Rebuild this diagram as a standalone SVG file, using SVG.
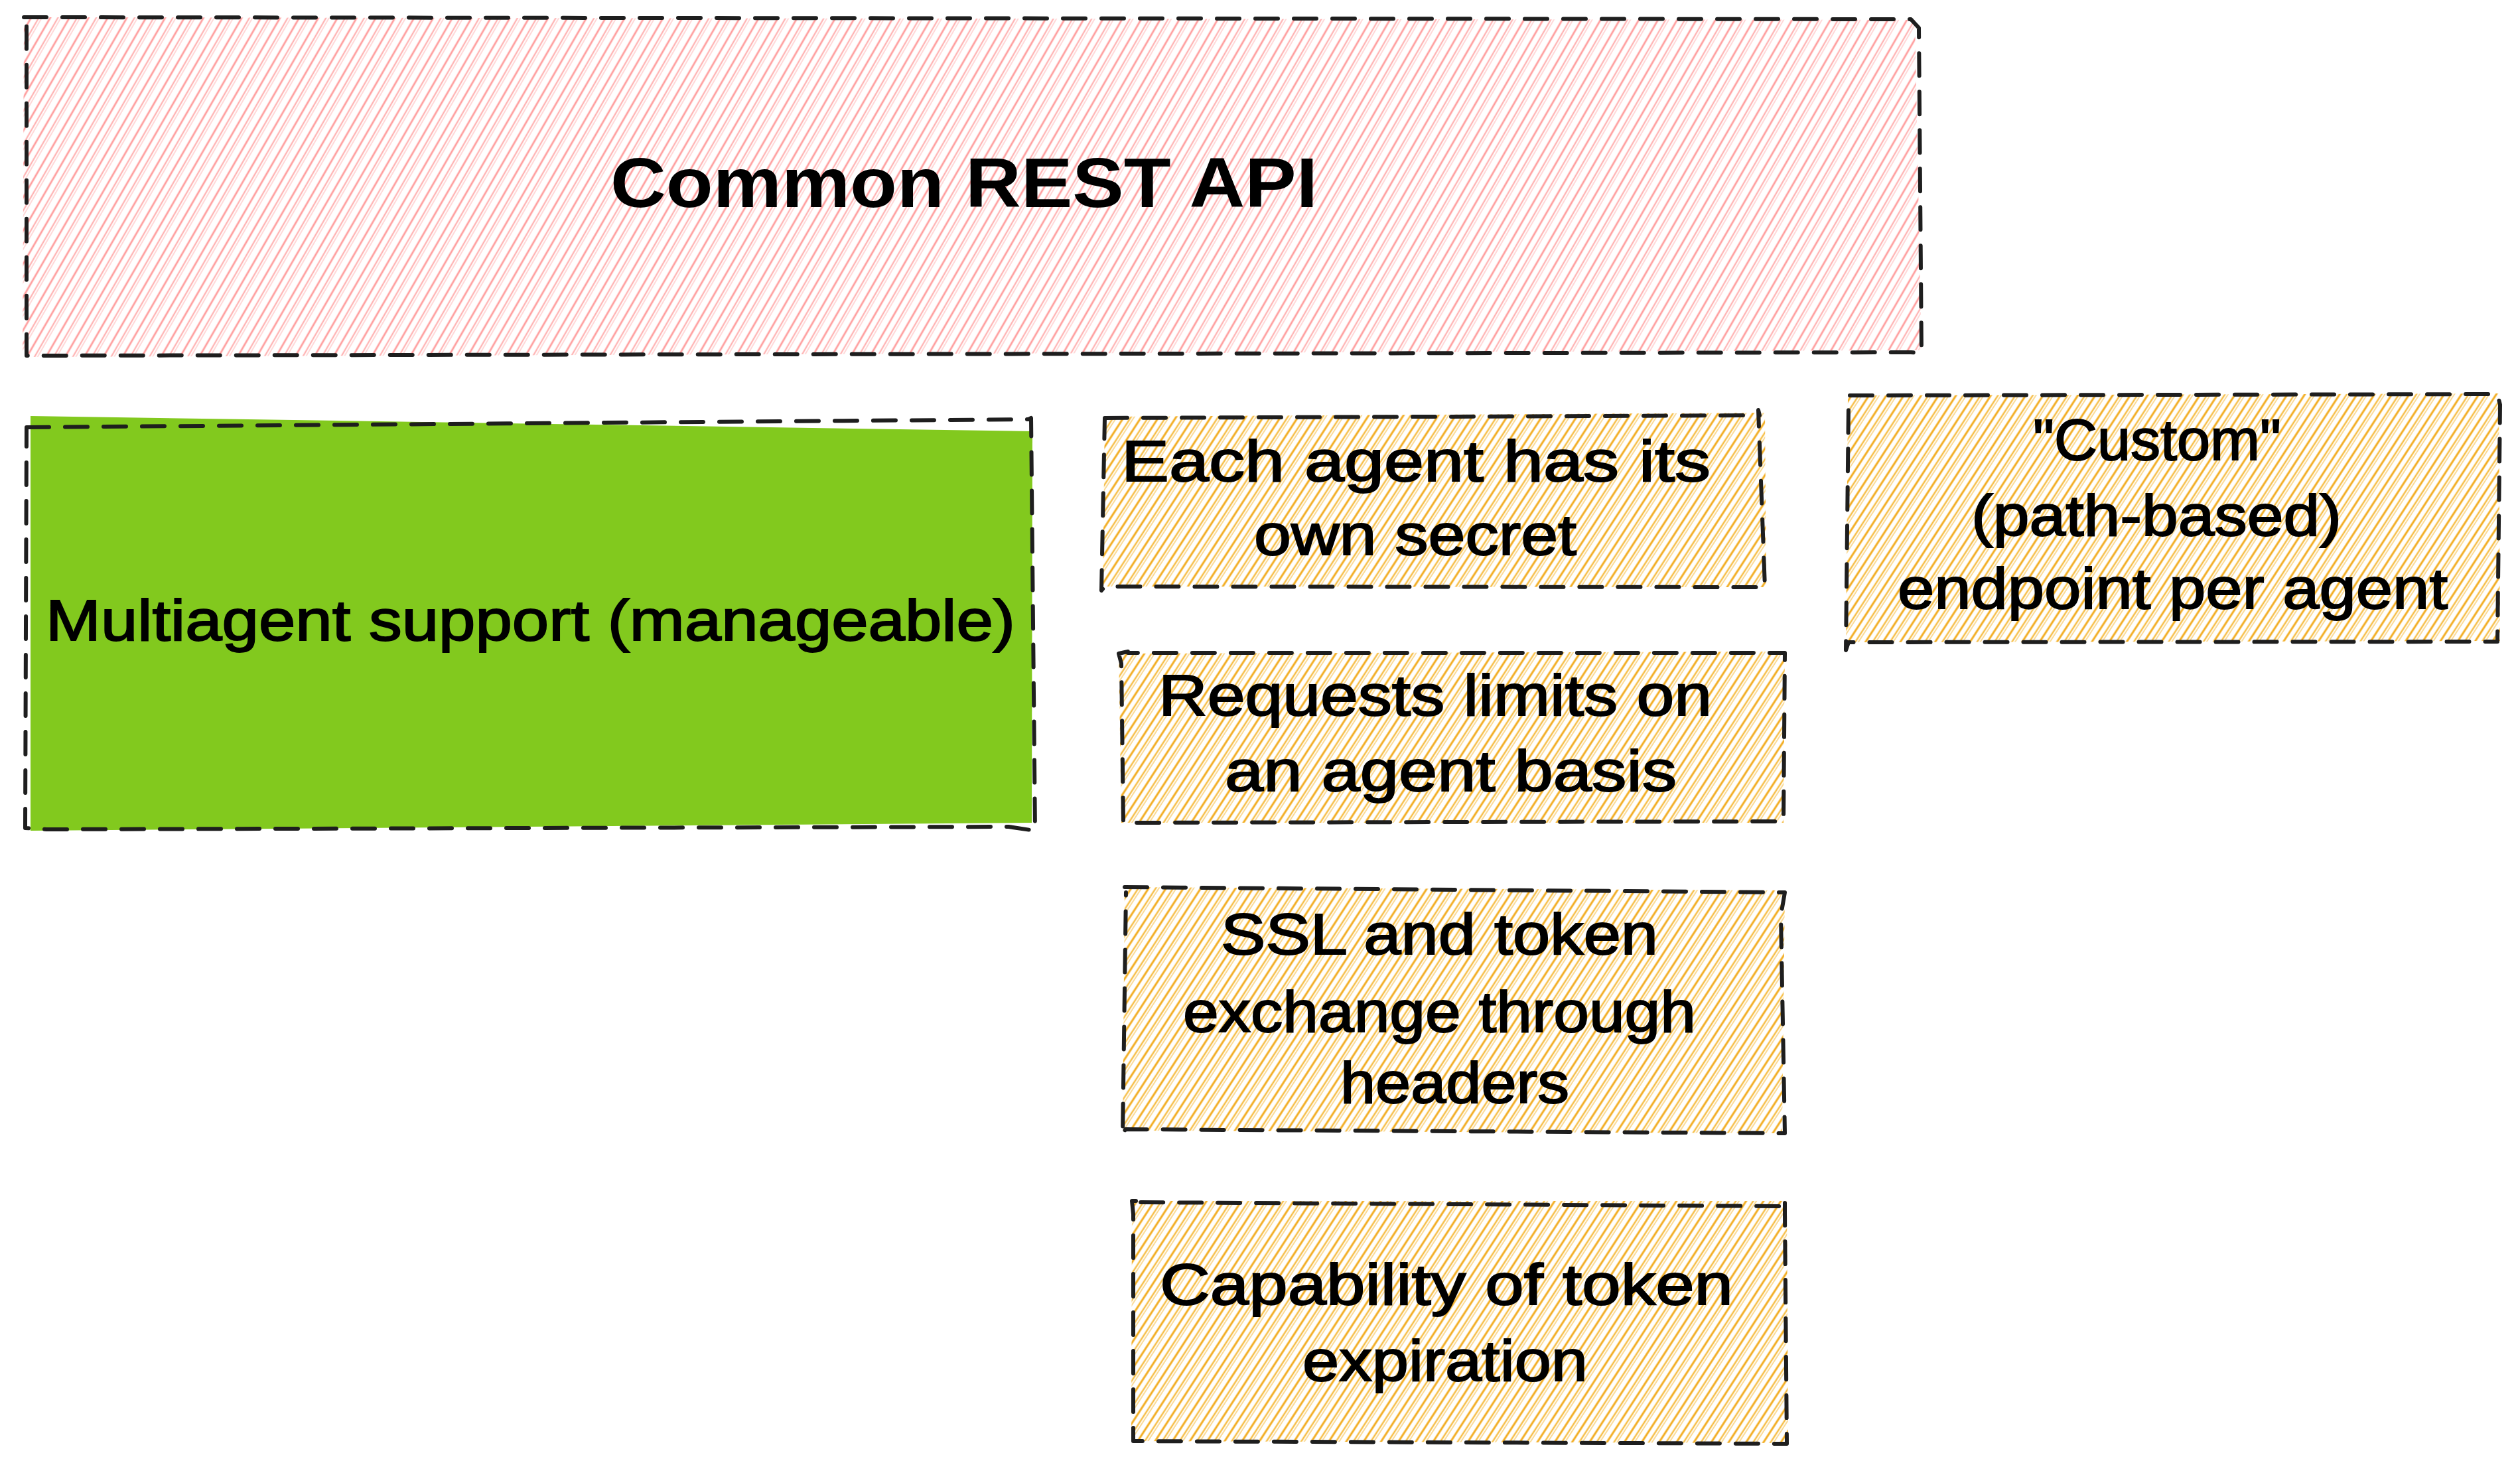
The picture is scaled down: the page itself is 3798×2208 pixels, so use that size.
<svg xmlns="http://www.w3.org/2000/svg" width="3798" height="2208" viewBox="0 0 3798 2208">
  <defs>
    <pattern id="hachPink" patternUnits="userSpaceOnUse" width="25" height="60" patternTransform="rotate(30)">
      <line x1="4" y1="0" x2="4" y2="60" stroke="#ff9f9f" stroke-width="2.8"/>
      <line x1="14" y1="0" x2="14" y2="60" stroke="#ffb5b5" stroke-width="2.4"/>
      <line x1="18" y1="0" x2="18" y2="60" stroke="#ffcfcf" stroke-width="1.6"/>
    </pattern>
    <pattern id="hachYellow" patternUnits="userSpaceOnUse" width="22" height="60" patternTransform="rotate(33)">
      <line x1="3" y1="0" x2="3" y2="60" stroke="#f2ad22" stroke-width="3"/>
      <line x1="12" y1="0" x2="12" y2="60" stroke="#f6c04c" stroke-width="2.6"/>
      <line x1="16" y1="0" x2="16" y2="60" stroke="#f9d27e" stroke-width="1.6"/>
    </pattern>
    <style>
      .border { fill: none; stroke: #1e1e1e; stroke-width: 6; stroke-dasharray: 34 24; stroke-linecap: round; stroke-linejoin: round; }
      .pink { fill: url(#hachPink); stroke: none; }
      .yellow { fill: url(#hachYellow); stroke: none; }
      .green { fill: #82c91e; stroke: none; }
      .hand { font-family: "Liberation Sans", "Noto Sans", sans-serif; font-size: 88px; fill: #000; stroke: #000; stroke-width: 2; text-anchor: start; }
      .title { font-family: "Liberation Sans", "Noto Sans", sans-serif; font-size: 106px; font-weight: bold; fill: #000; }
    </style>
  </defs>

  <g id="connectors"></g>

  <g id="node-common-rest-api">
    <path class="pink" d="M36 26 L2886 30 L2896 528 L34 538 Z"/>
    <path class="border" d="M36 26 L2880 29 L2892 42 L2896 532 L2880 531 L40 536 L40 26"/>
    <text class="title" x="920" y="312" textLength="1066" lengthAdjust="spacingAndGlyphs">Common REST API</text>
  </g>

  <g id="node-multiagent">
    <path class="green" d="M46 627 L1556 650 L1555 1240 L46 1252 Z"/>
    <path class="border" d="M40 644 L1550 632 L1554 630 L1560 1252 L1520 1246 L70 1250 L38 1248 L40 644"/>
    <text class="hand" x="69" y="965" textLength="1461" lengthAdjust="spacingAndGlyphs">Multiagent support (manageable)</text>
  </g>

  <g id="node-each-agent">
    <path class="yellow" d="M1665 628 L2660 622 L2662 885 L1662 884 Z"/>
    <path class="border" d="M1665 630 L2652 626 L2650 618 L2660 885 L1665 884 L1660 890 L1665 630"/>
    <text class="hand" x="1690" y="725" textLength="888" lengthAdjust="spacingAndGlyphs">Each agent has its</text>
    <text class="hand" x="1890" y="836" textLength="486" lengthAdjust="spacingAndGlyphs">own secret</text>
  </g>

  <g id="node-custom-endpoint">
    <path class="yellow" d="M2785 596 L3766 593 L3768 966 L2782 968 Z"/>
    <path class="border" d="M2788 596 L3764 594 L3768 610 L3764 967 L2786 968 L2782 980 L2786 610"/>
    <text class="hand" x="3064" y="693" textLength="374" lengthAdjust="spacingAndGlyphs">"Custom"</text>
    <text class="hand" x="2971" y="807" textLength="558" lengthAdjust="spacingAndGlyphs">(path-based)</text>
    <text class="hand" x="2860" y="917" textLength="829" lengthAdjust="spacingAndGlyphs">endpoint per agent</text>
  </g>

  <g id="node-requests-limits">
    <path class="yellow" d="M1686 985 L2690 982 L2688 1240 L1690 1240 Z"/>
    <path class="border" d="M1700 982 L1686 985 L1690 1000 L1693 1240 L2688 1238 L2690 984 L1700 984"/>
    <text class="hand" x="1746" y="1078" textLength="834" lengthAdjust="spacingAndGlyphs">Requests limits on</text>
    <text class="hand" x="1846" y="1192" textLength="681" lengthAdjust="spacingAndGlyphs">an agent basis</text>
  </g>

  <g id="node-ssl-token">
    <path class="yellow" d="M1695 1337 L2690 1342 L2686 1708 L1692 1704 Z"/>
    <path class="border" d="M1695 1337 L2690 1345 L2684 1380 L2690 1708 L2686 1708 L1696 1702 L1692 1712 L1697 1345"/>
    <text class="hand" x="1840" y="1438" textLength="659" lengthAdjust="spacingAndGlyphs">SSL and token</text>
    <text class="hand" x="1783" y="1555" textLength="773" lengthAdjust="spacingAndGlyphs">exchange through</text>
    <text class="hand" x="2020" y="1662" textLength="345" lengthAdjust="spacingAndGlyphs">headers</text>
  </g>

  <g id="node-capability">
    <path class="yellow" d="M1706 1810 L2693 1810 L2695 2175 L1705 2172 Z"/>
    <path class="border" d="M1712 1810 L1706 1810 L1708 1830 L1708 2172 L2693 2176 L2690 1830 L2690 1806 L2685 1818 L1712 1812"/>
    <text class="hand" x="1748" y="1966" textLength="864" lengthAdjust="spacingAndGlyphs">Capability of token</text>
    <text class="hand" x="1963" y="2081" textLength="430" lengthAdjust="spacingAndGlyphs">expiration</text>
  </g>
</svg>
